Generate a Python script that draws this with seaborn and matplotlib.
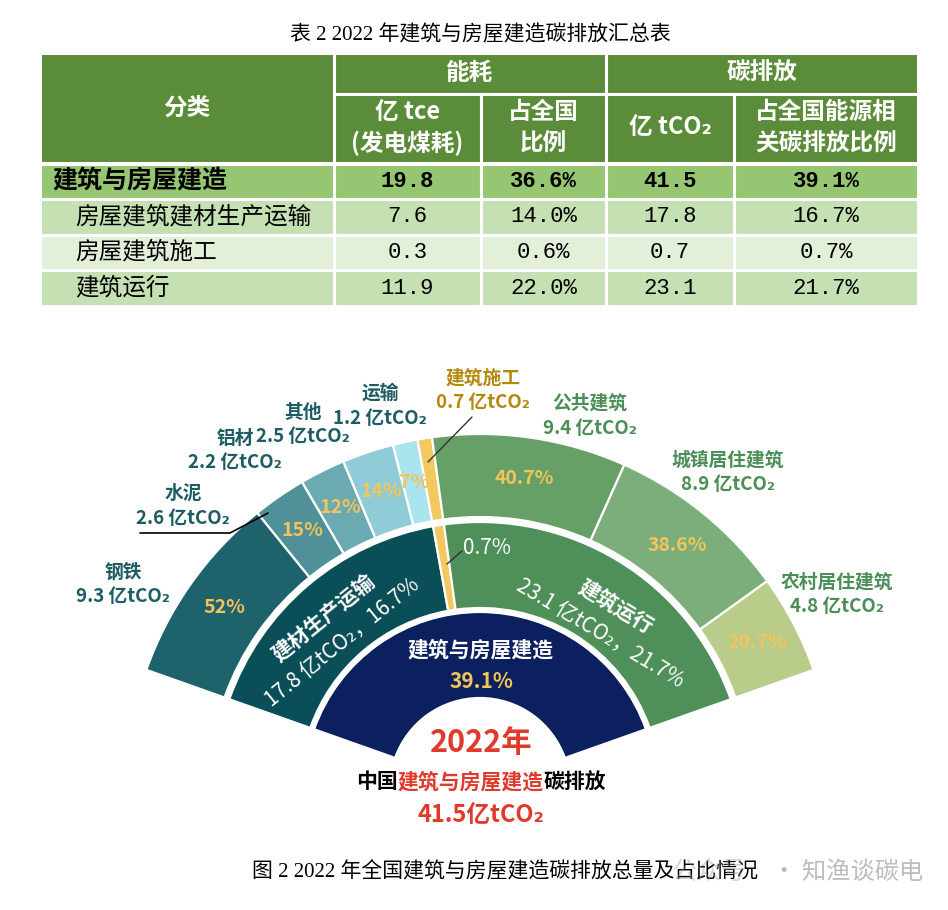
import matplotlib
matplotlib.use("Agg")
import numpy as np
import matplotlib.pyplot as plt
from matplotlib.patches import Wedge, Rectangle
import seaborn as sns

# ---- table data ----
row_names = ["建筑与房屋建造", "房屋建筑建材生产运输", "房屋建筑施工", "建筑运行"]
energy = [19.8, 7.6, 0.3, 11.9]
energy_share = [36.6, 14.0, 0.6, 22.0]
carbon = [41.5, 17.8, 0.7, 23.1]
carbon_share = [39.1, 16.7, 0.7, 21.7]

# ---- fan chart data ----
total_name = "建筑与房屋建造"
total_carbon = 41.5
total_share = 39.1
mid_names = ["建材生产运输", "建筑施工", "建筑运行"]
mid_values = [17.8, 0.7, 23.1]
mid_shares = [16.7, 0.7, 21.7]
outer_names = ["钢铁", "水泥", "铝材", "其他", "运输", "建筑施工", "公共建筑", "城镇居住建筑", "农村居住建筑"]
outer_values = [9.3, 2.6, 2.2, 2.5, 1.2, 0.7, 9.4, 8.9, 4.8]
outer_pcts = ["52%", "15%", "12%", "14%", "7%", "", "40.7%", "38.6%", "20.7%"]

sns.set_theme(style="white")
CJK = ["Noto Sans CJK SC", "DejaVu Sans"]
SERIF = ["Liberation Serif", "Noto Sans CJK SC"]
MONO = ["Liberation Mono", "Noto Sans CJK SC"]
plt.rcParams["font.family"] = CJK

fig = plt.figure(figsize=(9.48, 9.10), dpi=100)
ax = fig.add_axes([0, 0, 1, 1])
ax.set_xlim(0, 948)
ax.set_ylim(910, 0)
ax.axis("off")

# ================= table =================
ax.text(480, 35, "表 2 2022 年建筑与房屋建造碳排放汇总表", ha="center", va="center",
        fontsize=15, family=SERIF, color="black")

hdr = "#5B8C39"
row_colors = ["#97C672", "#C5E0B3", "#E2EFD9", "#C5E0B3"]
cols = [40, 334, 481, 606, 734, 918]
rows = [164, 199, 234.5, 270, 306]


def cell(x0, x1, y0, y1, fc):
    ax.add_patch(Rectangle((x0, y0), x1 - x0, y1 - y0, facecolor=fc,
                           edgecolor="white", linewidth=2.2))


cell(cols[0], cols[1], 53, 163, hdr)
cell(cols[1], cols[3], 53, 94, hdr)
cell(cols[3], cols[5], 53, 94, hdr)
for i in range(1, 5):
    cell(cols[i], cols[i + 1], 94, 163, hdr)

hkw = dict(ha="center", va="center", color="white", fontsize=17, fontweight="bold")
ax.text((cols[0] + cols[1]) / 2, 108, "分类", **hkw)
ax.text((cols[1] + cols[3]) / 2, 73, "能耗", **hkw)
ax.text((cols[3] + cols[5]) / 2, 73, "碳排放", **hkw)
c = [(cols[i] + cols[i + 1]) / 2 for i in range(1, 5)]
ax.text(c[0], 112, "亿 tce", **hkw)
ax.text(c[0], 143, "(发电煤耗)", **hkw)
ax.text(c[1], 112, "占全国", **hkw)
ax.text(c[1], 143, "比例", **hkw)
ax.text(c[2], 127, "亿 tCO₂", **hkw)
ax.text(c[3], 112, "占全国能源相", **hkw)
ax.text(c[3], 143, "关碳排放比例", **hkw)

for r, name in enumerate(row_names):
    y0, y1 = rows[r], rows[r + 1]
    for i in range(5):
        cell(cols[i], cols[i + 1], y0, y1, row_colors[r])
    ym = (y0 + y1) / 2
    bold = "bold" if r == 0 else "normal"
    ax.text(52 if r == 0 else 75, ym, name, ha="left", va="center",
            fontsize=18 if r == 0 else 17, fontweight=bold, color="black")
    vals = [f"{energy[r]:.1f}", f"{energy_share[r]:.1f}%",
            f"{carbon[r]:.1f}", f"{carbon_share[r]:.1f}%"]
    for k, v in enumerate(vals):
        ax.text(c[k], ym, v, ha="center", va="center", fontsize=16,
                family=MONO, fontweight=bold, color="black")

# ================= fan chart =================
cx, cy = 480, 788
a_start, a_end = 160.5, 19.5
scale = (a_start - a_end) / sum(outer_values)


def spans(values):
    out = []
    hi = a_start
    for v in values:
        lo = hi - v * scale
        out.append((lo, hi))
        hi = lo
    return out


def ring(r_in, r_out, seg, color, lw=1.6):
    lo, hi = seg
    ax.add_patch(Wedge((cx, cy), r_out, -hi, -lo, width=r_out - r_in,
                       facecolor=color, edgecolor="white", linewidth=lw))


def pt(ang, r):
    a = np.deg2rad(ang)
    return cx + r * np.cos(a), cy - r * np.sin(a)


yellow = "#F3C85F"
pct_yellow = "#F2C45A"

# inner ring
ring(90, 176, (a_end, a_start), "#0C1F5E")
ax.text(481, 650, total_name, ha="center", va="center", fontsize=15,
        fontweight="bold", color="white")
ax.text(481, 681, f"{total_share}%", ha="center", va="center", fontsize=15,
        fontweight="bold", color=pct_yellow)

# middle ring
mid_colors = ["#0A4F57", yellow, "#4E8F5A"]
mid_spans = spans(mid_values)
for s, col in zip(mid_spans, mid_colors):
    ring(180, 266, s, col)

ax.text(323, 618, mid_names[0], ha="center", va="center", rotation=39,
        fontsize=15, fontweight="bold", color="white")
ax.text(342, 642, f"{mid_values[0]} 亿tCO₂，{mid_shares[0]}%", ha="center",
        va="center", rotation=39, fontsize=15, color="white")
ax.text(616, 607, mid_names[2], ha="center", va="center", rotation=-31,
        fontsize=15, fontweight="bold", color="white")
ax.text(600, 633, f"{mid_values[2]} 亿tCO₂，{mid_shares[2]}%", ha="center",
        va="center", rotation=-31, fontsize=15, color="white")
ax.plot([447, 462], [564, 551], color="#333333", lw=1)
ax.text(463, 548, f"{mid_shares[1]}%", ha="left", va="center", fontsize=15,
        color="white")

# outer ring
outer_colors = ["#1E626C", "#4F9099", "#6BA9B3", "#8FCCD7", "#AAE5EF",
                yellow, "#66A066", "#7CAE7C", "#B9CC89"]
outer_spans = spans(outer_values)
for s, col, p in zip(outer_spans, outer_colors, outer_pcts):
    ring(271, 354, s, col)
    if p:
        x, y = pt((s[0] + s[1]) / 2, 313)
        ax.text(x, y, p, ha="center", va="center", fontsize=14,
                fontweight="bold", color=pct_yellow)

teal_txt = "#1E5C66"
gold_txt = "#B5890F"
green_txt = "#4C8E58"
label_pos = [(123, 572), (183, 493), (235, 438), (303, 412), (380, 393),
             (483, 378), (590, 403), (728, 460), (837, 582)]
label_col = [teal_txt] * 5 + [gold_txt] + [green_txt] * 3
for name, v, (x, y), col in zip(outer_names, outer_values, label_pos, label_col):
    ax.text(x, y, name, ha="center", va="center", fontsize=13.5,
            fontweight="bold", color=col)
    ax.text(x, y + 25, f"{v} 亿tCO₂", ha="center", va="center", fontsize=13.5,
            fontweight="bold", color=col)

# leader lines
ax.plot([140, 230, 268], [533, 533, 513], color="black", lw=1.2)
ax.plot([472, 428], [417, 462], color="#333333", lw=1)

# centre titles
red = "#E03A2C"
ax.text(481, 743, "2022年", ha="center", va="center", fontsize=22,
        fontweight="bold", color=red)
parts = [("中国", "black"), ("建筑与房屋建造", red), ("碳排放", "black")]
char_w = 20.8
total_chars = sum(len(p) for p, _ in parts)
x = 481 - total_chars * char_w / 2
for p, col in parts:
    ax.text(x, 782, p, ha="left", va="center", fontsize=15,
            fontweight="bold", color=col)
    x += len(p) * char_w
ax.text(481, 815, f"{total_carbon}亿tCO₂", ha="center", va="center",
        fontsize=17, fontweight="bold", color=red)

# caption + watermark (the watermark sits over the caption end, as in the source)
ax.text(252, 872, "图 2 2022 年全国建筑与房屋建造碳排放总量及占比情况", ha="left",
        va="center", fontsize=15, family=SERIF, color="black")
ax.text(672, 872, "公众号", ha="left", va="center", fontsize=18,
        color="#9A9A9A", alpha=0.4)
ax.text(772, 872, "· 知渔谈碳电", ha="left", va="center", fontsize=17.5,
        color="#BDBDBD")

fig.savefig("out.png", dpi=100)
